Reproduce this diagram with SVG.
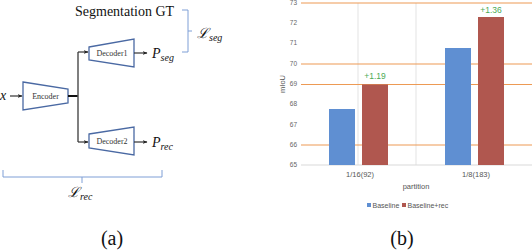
<svg xmlns="http://www.w3.org/2000/svg" width="532" height="252" viewBox="0 0 532 252">
<defs>
<marker id="ah" viewBox="0 0 10 10" refX="9" refY="5" markerWidth="5" markerHeight="5" orient="auto" markerUnits="userSpaceOnUse">
<path d="M0,1 L10,5 L0,9 L3,5 Z" fill="#222"/>
</marker>
<style>
.trap{fill:#fff;stroke:#4a69a3;stroke-width:1.3}
.ntxt{font-family:"Liberation Serif","DejaVu Serif","Times New Roman",serif;font-size:8px;fill:#333;text-anchor:middle}
.serif{font-family:"Liberation Serif","DejaVu Serif","Times New Roman",serif;fill:#111}
.brace{fill:none;stroke:#7f9fd6;stroke-width:1}
.conn{fill:none;stroke:#333;stroke-width:1.2}
.orange{stroke:#ed9a54;stroke-width:1.2}
.vgrid{stroke:#e3e3e3;stroke-width:1}
.ylab{font-family:"Liberation Sans",sans-serif;font-size:6.5px;fill:#666;text-anchor:end}
.clab{font-family:"Liberation Sans",sans-serif;font-size:7.5px;fill:#555;text-anchor:middle}
.leg{font-family:"Liberation Sans",sans-serif;font-size:7px;fill:#555}
.diff{font-family:"Liberation Sans",sans-serif;font-size:8.5px;fill:#4caa55;text-anchor:middle}
.blue{fill:#5f8fd2}
.red{fill:#b0574f}
</style>
</defs>
<rect width="532" height="252" fill="#fff"/>

<!-- (a) -->
<g id="encoder">
<polygon class="trap" points="23,82 68,89 68,103 23,110"/>
<text class="ntxt" x="45.5" y="99">Encoder</text>
</g>
<g id="decoder1">
<polygon class="trap" points="89,47 134,39 134,67 89,60"/>
<text class="ntxt" x="112" y="56">Decoder1</text>
</g>
<g id="decoder2">
<polygon class="trap" points="89,134 134,127 134,155 89,148"/>
<text class="ntxt" x="112" y="144">Decoder2</text>
</g>
<g id="x-input">
<text class="serif" x="0" y="100" font-size="14" font-style="italic">x</text>
</g>
<g id="p-seg">
<text class="serif" x="152" y="58" font-size="14" font-style="italic">P<tspan font-size="10" dy="3">seg</tspan></text>
</g>
<g id="p-rec">
<text class="serif" x="152" y="147" font-size="14" font-style="italic">P<tspan font-size="10" dy="3">rec</tspan></text>
</g>
<g id="seg-gt">
<text class="serif" x="75" y="16" font-size="14">Segmentation GT</text>
</g>
<g id="l-seg">
<path class="brace" d="M182,10 H188 V52 H182 M188,31 H192"/>
<text class="serif" x="197" y="38" font-size="14" font-style="italic">ℒ<tspan font-size="10" dy="3">seg</tspan></text>
</g>
<g id="l-rec">
<path class="brace" d="M3,170 V177 H162 V170 M82,177 V183"/>
<text class="serif" x="68" y="197" font-size="14" font-style="italic">ℒ<tspan font-size="10" dy="3">rec</tspan></text>
</g>
<g id="connectors">
<line class="conn" x1="10" y1="96" x2="22" y2="96" marker-end="url(#ah)"/>
<line x1="68" y1="96" x2="78" y2="96" stroke="#111" stroke-width="2"/>
<line x1="78" y1="52" x2="78" y2="142" stroke="#555" stroke-width="1.5"/>
<line class="conn" x1="78" y1="52" x2="88" y2="52" marker-end="url(#ah)"/>
<line class="conn" x1="78" y1="142" x2="88" y2="142" marker-end="url(#ah)"/>
<line class="conn" x1="134" y1="53" x2="147" y2="53" marker-end="url(#ah)"/>
<line class="conn" x1="134" y1="142" x2="147" y2="142" marker-end="url(#ah)"/>
</g>
<text class="serif" x="112" y="245" font-size="20" text-anchor="middle">(a)</text>

<!-- (b) chart -->
<g id="chart">
<line class="vgrid" x1="358" y1="3" x2="358" y2="165"/>
<line class="vgrid" x1="416" y1="3" x2="416" y2="165"/>
<line class="orange" x1="301" y1="3" x2="532" y2="3"/>
<line class="orange" x1="301" y1="64" x2="532" y2="64"/>
<line class="orange" x1="301" y1="84.5" x2="532" y2="84.5"/>
<line class="orange" x1="301" y1="145" x2="532" y2="145"/>
<line x1="301" y1="165" x2="532" y2="165" stroke="#d9d9d9" stroke-width="1"/>
<rect class="blue" x="329" y="109" width="26" height="56"/>
<rect class="red" x="362" y="84.5" width="26" height="80.5"/>
<rect class="blue" x="445" y="48" width="26" height="117"/>
<rect class="red" x="478" y="17" width="26" height="148"/>
<text class="diff" x="375" y="79">+1.19</text>
<text class="diff" x="491" y="13">+1.36</text>
<g dominant-baseline="middle">
<text class="ylab" x="297" y="3">73</text>
<text class="ylab" x="297" y="23">72</text>
<text class="ylab" x="297" y="43">71</text>
<text class="ylab" x="297" y="64">70</text>
<text class="ylab" x="297" y="84">69</text>
<text class="ylab" x="297" y="104">68</text>
<text class="ylab" x="297" y="125">67</text>
<text class="ylab" x="297" y="145">66</text>
<text class="ylab" x="297" y="165">65</text>
</g>
<text class="clab" transform="translate(283,84) rotate(-90)" dominant-baseline="middle">mIoU</text>
<text class="clab" x="360" y="177">1/16(92)</text>
<text class="clab" x="476" y="177">1/8(183)</text>
<text class="clab" x="416" y="189">partition</text>
<rect class="blue" x="367" y="203" width="4" height="4"/>
<text class="leg" x="372.5" y="207.5">Baseline</text>
<rect class="red" x="402" y="203" width="4" height="4"/>
<text class="leg" x="407.5" y="207.5">Baseline+rec</text>
</g>
<text class="serif" x="402" y="245" font-size="20" text-anchor="middle">(b)</text>
</svg>
